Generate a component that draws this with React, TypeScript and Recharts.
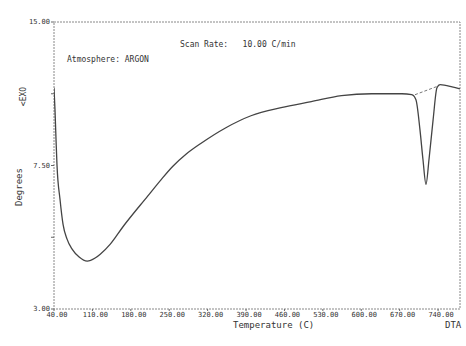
import { LineChart, Line, XAxis, YAxis, ReferenceArea } from 'recharts';

// DTA trace
const temps = [40, 41.8, 43.7, 45.5, 51, 56.5, 63.8, 73, 85.8, 100.5, 115, 124.3, 142.6, 166.4, 210.4, 234.2, 256.2, 280, 307.5, 353.3, 399, 454, 509, 564, 619, 674, 692, 699.7, 707, 712.5, 718, 723.5, 731, 738, 743.6, 765.6, 780];
const degrees = [12.25, 11.33, 10.08, 9.0, 7.58, 6.54, 5.92, 5.5, 5.17, 5.0, 5.13, 5.29, 5.71, 6.46, 7.71, 8.38, 8.96, 9.46, 9.92, 10.58, 11.08, 11.42, 11.67, 11.92, 12.0, 12.0, 11.96, 11.75, 10.5, 9.25, 8.21, 9.25, 10.92, 12.25, 12.38, 12.29, 12.2];

// construction baseline across the peak
const baseTemps = [698, 741];
const baseDegrees = [11.96, 12.33];

const xTicks = [40, 110, 180, 250, 320, 390, 460, 530, 600, 670, 740];
const yTicks = [3, 6, 9, 12, 15];
const yTickLabels: Record<number, string> = { 15: '15.00', 9: '7.50', 3: '3.00' };

const trace = temps.map((t, i) => ({ t, v: degrees[i] }));
const baseline = baseTemps.map((t, i) => ({ t, v: baseDegrees[i] }));

const mono = '"DejaVu Sans Mono", "Liberation Mono", monospace';
const ink = '#333';

const label = (extra: React.CSSProperties): React.CSSProperties => ({
  position: 'absolute',
  fontFamily: mono,
  fontSize: 8,
  color: ink,
  whiteSpace: 'pre',
  ...extra,
});

export default function App() {
  return (
    <div style={{ position: 'absolute', left: 0, top: 0, width: 466, height: 346, background: '#fff' }}>
      <LineChart width={466} height={346} margin={{ top: 22, right: 6, bottom: 17, left: 10 }}>
        <XAxis
          dataKey="t"
          type="number"
          domain={[40, 780]}
          ticks={xTicks}
          interval={0}
          allowDataOverflow
          axisLine={false}
          tickSize={2}
          tickMargin={1}
          height={20}
          stroke="#666"
          tick={{ fontSize: 7, fontFamily: mono, fill: ink, dx: 3 }}
          tickFormatter={(v) => `${v}.00`}
        />
        <YAxis
          type="number"
          domain={[3, 15]}
          ticks={yTicks}
          interval={0}
          axisLine={false}
          width={44}
          tickSize={3}
          tickMargin={1}
          stroke="#666"
          tick={{ fontSize: 7, fontFamily: mono, fill: ink }}
          tickFormatter={(v) => yTickLabels[v] ?? ''}
        />
        <ReferenceArea x1={40} x2={780} y1={3} y2={15} fill="none" stroke="#888" strokeDasharray="2 1" />
        <Line data={baseline} dataKey="v" type="linear" stroke="#777" strokeWidth={1} strokeDasharray="3 2" dot={false} isAnimationActive={false} />
        <Line data={trace} dataKey="v" type="monotone" stroke="#444" strokeWidth={1.3} dot={false} isAnimationActive={false} />
      </LineChart>
      <span style={label({ left: 180, top: 40 })}>Scan Rate:   10.00 C/min</span>
      <span style={label({ left: 67, top: 55 })}>Atmosphere: ARGON</span>
      <span style={label({ left: 14, top: 92, transform: 'rotate(-90deg)', transformOrigin: 'center' })}>&lt;EXO</span>
      <span style={label({ left: 0, top: 182, fontSize: 9, transform: 'rotate(-90deg)', transformOrigin: 'center' })}>Degrees</span>
      <span style={label({ left: 233, top: 320, fontSize: 9 })}>Temperature (C)</span>
      <span style={label({ left: 445, top: 320, fontSize: 9 })}>DTA</span>
    </div>
  );
}
